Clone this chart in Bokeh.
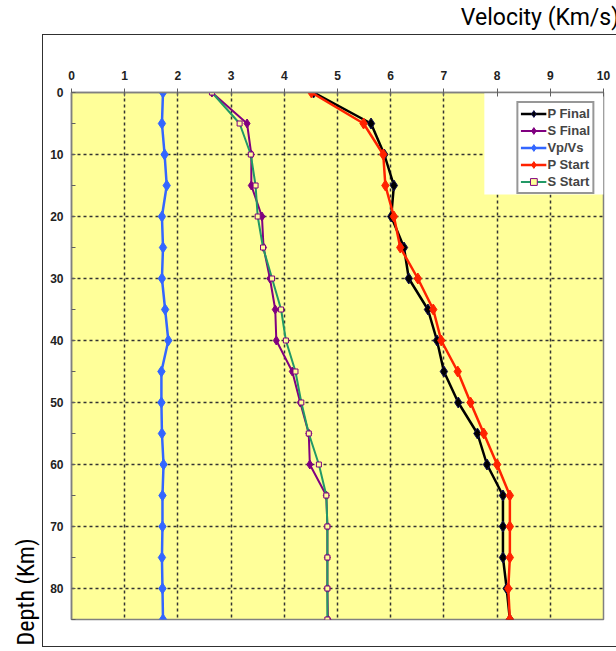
from bokeh.plotting import figure
from bokeh.models import Range1d, FixedTicker, InlineStyleSheet, Title, LinearAxis
from bokeh.embed import file_html
from bokeh.resources import INLINE

# ---------------- data ----------------
depth = [0, 5, 10, 15, 20, 25, 30, 35, 40, 45, 50, 55, 60, 65, 70, 75, 80, 85]
p_final = [4.55, 5.63, 5.88, 6.06, 6.01, 6.25, 6.34, 6.70, 6.87, 7.00, 7.27, 7.63, 7.81, 8.11, 8.11, 8.11, 8.18, 8.24]
s_final = [2.64, 3.30, 3.38, 3.38, 3.58, 3.61, 3.73, 3.83, 3.85, 4.15, 4.30, 4.46, 4.48, 4.79, 4.81, 4.81, 4.81, 4.82]
vp_vs = [1.72, 1.70, 1.75, 1.79, 1.70, 1.72, 1.70, 1.76, 1.82, 1.69, 1.69, 1.70, 1.73, 1.71, 1.71, 1.70, 1.71, 1.72]
p_start = [4.51, 5.49, 5.86, 5.90, 6.06, 6.18, 6.51, 6.80, 6.95, 7.26, 7.50, 7.75, 8.00, 8.24, 8.24, 8.24, 8.21, 8.24]
s_start = [2.64, 3.16, 3.37, 3.46, 3.50, 3.60, 3.77, 3.94, 4.03, 4.21, 4.32, 4.46, 4.65, 4.79, 4.81, 4.81, 4.81, 4.81]
x_ticks = [0, 1, 2, 3, 4, 5, 6, 7, 8, 9, 10]
y_ticks = [0, 10, 20, 30, 40, 50, 60, 70, 80]
y_minor = [5, 15, 25, 35, 45, 55, 65, 75, 85]
x_title = "Velocity (Km/s)"
y_title = "Depth (Km)"

NARROW = "Liberation Sans Narrow, Roboto Condensed, Arial Narrow, Liberation Sans, sans-serif"
BOLD = "Liberation Sans, Arial, sans-serif"

W, H = 616, 651
p = figure(width=W, height=H, frame_width=532, frame_height=527,
           x_range=Range1d(0, 10), y_range=Range1d(85, 0),
           x_axis_location="above", output_backend="svg", toolbar_location=None,
           min_border_left=71, min_border_right=13, min_border_top=92, min_border_bottom=32)

p.background_fill_color = "#FFFF99"
p.border_fill_color = "white"
p.outline_line_color = "#808080"
p.outline_line_width = 1.5

# outer frame drawn with CSS around the chart area
p.stylesheets = [InlineStyleSheet(css="""
:host { position: relative; }
:host::after { content: ""; position: absolute; left: 42px; top: 34px; width: 600px;
  height: 613px; border: 1.5px solid #303030; pointer-events: none; box-sizing: border-box; }
""")]

# axes
p.xaxis.ticker = FixedTicker(ticks=x_ticks)
p.yaxis.ticker = FixedTicker(ticks=y_ticks, minor_ticks=y_minor)
for ax in (p.xaxis[0], p.yaxis[0]):
    ax.axis_line_color = "#808080"
    ax.axis_line_width = 1.5
    ax.major_tick_line_color = "#606060"
    ax.minor_tick_line_color = "#606060"
    ax.major_label_text_font = BOLD
    ax.major_label_text_font_style = "bold"
    ax.major_label_text_font_size = "12px"
    ax.major_label_text_color = "#222222"
p.xaxis.major_tick_in = 4
p.xaxis.major_tick_out = 4
p.xaxis.minor_tick_in = 0
p.xaxis.minor_tick_out = 0
p.xaxis.major_label_standoff = 9
p.yaxis.major_tick_in = 4
p.yaxis.major_tick_out = 0
p.yaxis.minor_tick_in = 4
p.yaxis.minor_tick_out = 0
p.yaxis.major_label_standoff = 8

# title axis above: carries only the "Velocity" label; leading no-break spaces push
# the visible words to the right-hand end, as in the reference
title_axis = LinearAxis(ticker=FixedTicker(ticks=[]),
                        axis_line_alpha=0, major_tick_in=0, major_tick_out=0,
                        minor_tick_in=0, minor_tick_out=0, major_label_standoff=0,
                        axis_label="\u00a0" * 71 + x_title, axis_label_standoff=37,
                        axis_label_text_font=value_font if False else "Roboto",
                        axis_label_text_font_style="normal",
                        axis_label_text_font_size="23px", axis_label_text_color="black")
p.add_layout(title_axis, "above")

# depth title on the left side, aligned at the bottom
p.add_layout(Title(text=y_title, align="left", offset=-26, text_font=NARROW,
                   text_font_style="normal", text_font_size="24px", text_color="black",
                   standoff=16), "left")

# grid
p.xgrid.ticker = FixedTicker(ticks=x_ticks[1:-1])
p.ygrid.ticker = FixedTicker(ticks=y_ticks[1:])
for g in (p.xgrid[0], p.ygrid[0]):
    g.grid_line_color = "#333333"
    g.grid_line_dash = "3 3"
    g.grid_line_width = 1.5

# white area behind legend
p.quad(left=7.76, right=10, top=0, bottom=16.45, fill_color="white", line_alpha=0)

# series
c_pf, c_sf, c_vv, c_ps, c_ss = "#000000", "#800080", "#3366FF", "#FF2200", "#229966"
p.line(p_final, depth, color=c_pf, line_width=2.5, legend_label="P Final")
p.scatter(p_final, depth, marker="diamond", size=11, fill_color=c_pf, line_color="#101050", legend_label="P Final")
p.line(s_final, depth, color=c_sf, line_width=2, legend_label="S Final")
p.scatter(s_final, depth, marker="diamond", size=9, fill_color=c_sf, line_color=c_sf, legend_label="S Final")
p.line(vp_vs, depth, color=c_vv, line_width=2.5, legend_label="Vp/Vs")
p.scatter(vp_vs, depth, marker="diamond", size=11, fill_color=c_vv, line_color=c_vv, legend_label="Vp/Vs")
p.line(p_start, depth, color=c_ps, line_width=2.5, legend_label="P Start")
p.scatter(p_start, depth, marker="diamond", size=11, fill_color=c_ps, line_color=c_ps, legend_label="P Start")
p.line(s_start, depth, color=c_ss, line_width=2, legend_label="S Start")
p.scatter(s_start, depth, marker="square", size=5, fill_color="#FFFF99", line_color=c_sf, line_width=1, legend_label="S Start")

lg = p.legend[0]
lg.location = "top_right"
lg.margin = 9
lg.border_line_color = "#303030"
lg.border_line_width = 2
lg.background_fill_color = "white"
lg.background_fill_alpha = 1
lg.label_text_font = BOLD
lg.label_text_font_style = "bold"
lg.label_text_font_size = "13px"
lg.glyph_width = 26
lg.glyph_height = 17
lg.label_height = 17
lg.spacing = 0
lg.padding = 2
lg.label_standoff = 1

open("out.html", "w").write(file_html(p, INLINE))
